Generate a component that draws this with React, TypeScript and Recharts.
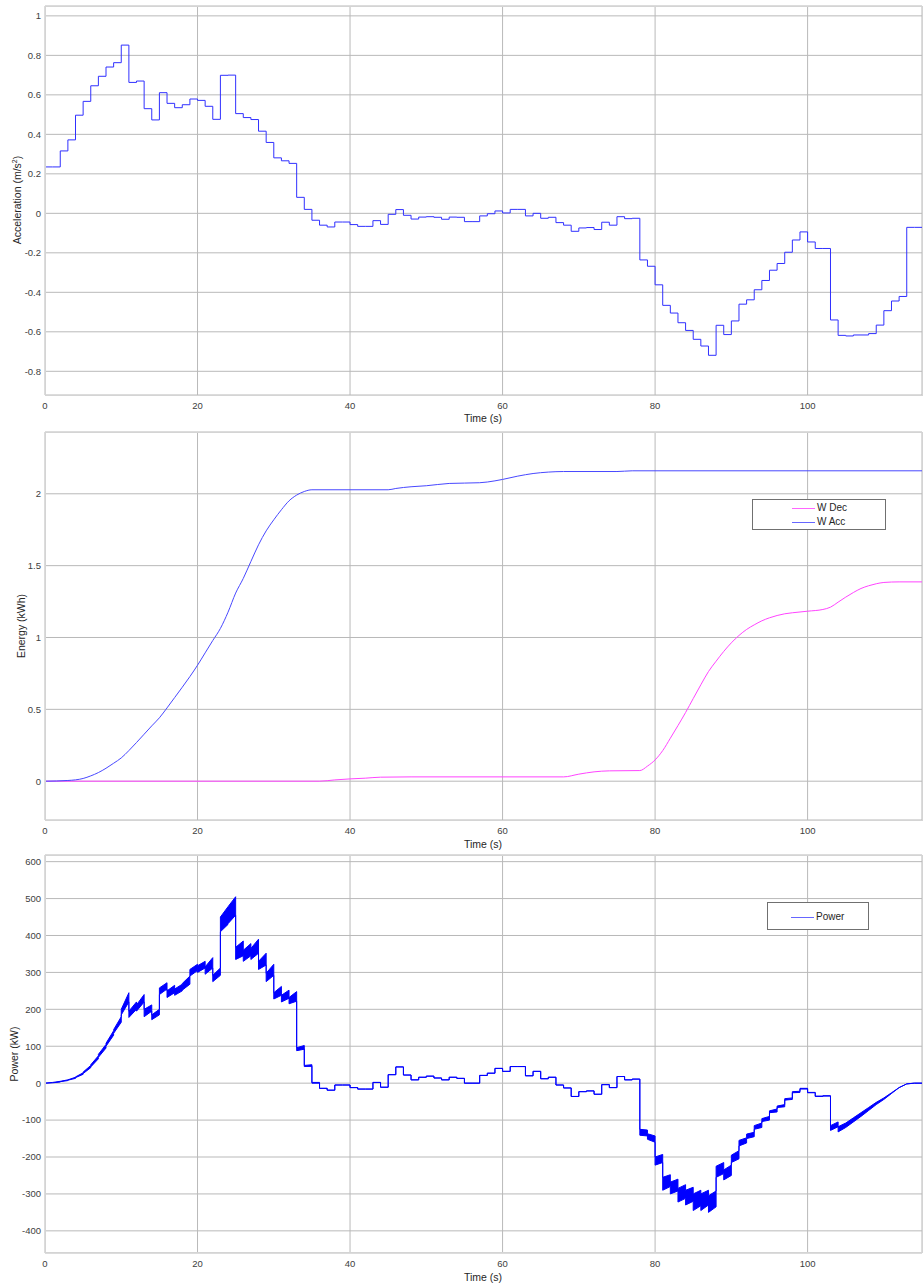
import { LineChart, ComposedChart, Line, Area, XAxis, YAxis, CartesianGrid, Legend } from 'recharts';

const FONT = '"Liberation Sans", Arial, Helvetica, sans-serif';

const timeTicks = [0, 20, 40, 60, 80, 100];
const accelTicks = [-0.8, -0.6, -0.4, -0.2, 0, 0.2, 0.4, 0.6, 0.8, 1];
const energyTicks = [0, 0.5, 1, 1.5, 2];
const powerTicks = [-400, -300, -200, -100, 0, 100, 200, 300, 400, 500, 600];

// acceleration (m/s2), held for 1 s from t = 0 .. 114
const accelValues = [
  0.235, 0.235, 0.316, 0.372, 0.497, 0.567, 0.646, 0.694, 0.741, 0.763,
  0.852, 0.663, 0.67, 0.53, 0.473, 0.611, 0.557, 0.535, 0.55, 0.579,
  0.572, 0.542, 0.476, 0.699, 0.7, 0.505, 0.485, 0.475, 0.416, 0.359,
  0.281, 0.266, 0.253, 0.081, 0.02, -0.035, -0.06, -0.069, -0.044, -0.044,
  -0.057, -0.066, -0.066, -0.037, -0.056, -0.005, 0.019, -0.01, -0.029, -0.019,
  -0.017, -0.02, -0.03, -0.019, -0.02, -0.042, -0.042, -0.013, -0.002, 0.012,
  0.002, 0.02, 0.02, -0.013, 0, -0.025, -0.02, -0.047, -0.06, -0.091,
  -0.074, -0.072, -0.082, -0.045, -0.06, -0.017, -0.027, -0.025, -0.236, -0.268,
  -0.362, -0.466, -0.505, -0.554, -0.593, -0.638, -0.672, -0.719, -0.567, -0.614,
  -0.545, -0.46, -0.438, -0.387, -0.34, -0.288, -0.254, -0.197, -0.135, -0.094,
  -0.145, -0.178, -0.178, -0.54, -0.618, -0.621, -0.616, -0.616, -0.609, -0.566,
  -0.493, -0.444, -0.421, -0.071, -0.071,
];

// energy (kWh)
const accTime = [0, 3, 5, 6, 7, 8, 9, 10, 11, 12, 13, 14, 15, 16, 17, 18, 19, 20, 21, 22, 23, 24, 25, 26, 27, 28, 29, 30, 31, 32, 33, 34, 35, 45, 46, 48, 50, 53, 57, 59, 60, 62, 64, 66, 68, 75, 77, 115];
const accEnergy = [0, 0.005, 0.019, 0.037, 0.06, 0.09, 0.125, 0.162, 0.213, 0.269, 0.327, 0.385, 0.441, 0.51, 0.582, 0.654, 0.728, 0.807, 0.893, 0.979, 1.063, 1.176, 1.309, 1.411, 1.529, 1.645, 1.742, 1.819, 1.889, 1.951, 1.991, 2.016, 2.028, 2.028, 2.037, 2.049, 2.056, 2.072, 2.077, 2.09, 2.1, 2.123, 2.141, 2.151, 2.155, 2.155, 2.16, 2.16];
const decTime = [0, 36, 38, 40, 42, 44, 48, 68, 70, 72, 74, 78, 79, 80, 81, 82, 83, 84, 85, 86, 87, 88, 89, 90, 91, 92, 93, 94, 95, 96, 97, 98, 100, 102, 103, 104, 105, 106, 107, 108, 109, 110, 112, 115];
const decEnergy = [0, 0, 0.009, 0.016, 0.021, 0.028, 0.03, 0.03, 0.049, 0.065, 0.072, 0.074, 0.105, 0.148, 0.213, 0.299, 0.387, 0.478, 0.575, 0.671, 0.763, 0.835, 0.903, 0.963, 1.014, 1.056, 1.088, 1.116, 1.137, 1.153, 1.165, 1.172, 1.183, 1.195, 1.211, 1.246, 1.281, 1.313, 1.341, 1.36, 1.374, 1.383, 1.387, 1.387];

// power (kW): per-second band [startLow, startHigh, endLow, endHigh]
const tractionBand = [
  [0, 0, 1, 2], [1, 2, 3, 5], [4, 5, 7, 9], [8, 9, 13, 16], [15, 17, 24, 28],
  [26, 30, 42, 48], [44, 50, 66, 74], [70, 78, 95, 105], [100, 108, 130, 142], [135, 145, 165, 180],
  [185, 200, 220, 245], [178, 195, 200, 220], [195, 212, 220, 240], [180, 200, 195, 212], [172, 185, 185, 200],
  [240, 258, 255, 272], [232, 250, 245, 265], [238, 255, 250, 268], [252, 270, 268, 290], [290, 308, 305, 322],
  [300, 318, 312, 330], [295, 315, 312, 340], [275, 292, 292, 312], [410, 450, 430, 478], [432, 478, 455, 505],
  [335, 368, 345, 385], [330, 360, 345, 378], [335, 365, 352, 390], [308, 330, 320, 352], [275, 298, 292, 322],
  [228, 245, 238, 262], [220, 238, 230, 252], [215, 232, 222, 248], [88, 96, 92, 102], [45, 48, 46, 50],
  [0, 2, 0, 2],
];
// t = 36 .. 77
const cruisePower = [
  -14, -19, -5, -5, -12, -16, -16, 2, -11, 23, 44, 22, 9, 16, 19, 14, 9, 16, 13, 0, 0,
  21, 27, 40, 32, 45, 45, 20, 32, 12, 16, -5, -13, -36, -23, -21, -30, -4, -12, 18, 9, 11,
];
// t = 78 .. 114
const brakingBand = [
  [-141, -125, -143, -127], [-152, -137, -160, -143], [-222, -200, -215, -193], [-290, -255, -280, -248],
  [-300, -268, -292, -260], [-322, -285, -312, -275], [-330, -290, -320, -282], [-345, -300, -332, -290],
  [-345, -300, -330, -290], [-350, -305, -335, -292], [-255, -225, -245, -215], [-262, -235, -250, -222],
  [-215, -195, -205, -183], [-170, -155, -162, -148], [-150, -138, -145, -133], [-125, -115, -120, -108],
  [-104, -96, -100, -90], [-80, -75, -78, -70], [-66, -62, -64, -58], [-46, -42, -44, -40],
  [-26, -23, -25, -22], [-16, -14, -16, -14], [-26, -25, -26, -25], [-36, -35, -36, -35],
  [-35, -34, -35, -34], [-128, -115, -118, -105], [-132, -118, -120, -108], [-120, -108, -105, -94],
  [-105, -94, -90, -80], [-90, -80, -74, -66], [-74, -66, -58, -52], [-58, -52, -44, -40],
  [-44, -40, -28, -26], [-28, -26, -12, -12], [-12, -12, -2, -2], [-2, -2, 0, 0], [0, 0, 0, 0],
];

const accelData = [{ t: 0, a: 0 }, ...accelValues.map((a, i) => ({ t: i, a })), { t: 115, a: accelValues[accelValues.length - 1] }];
const accData = accTime.map((t, i) => ({ t, e: accEnergy[i] }));
const decData = decTime.map((t, i) => ({ t, e: decEnergy[i] }));

const powerSegments = [
  ...tractionBand,
  ...cruisePower.map((v) => [v, v, v, v]),
  ...brakingBand,
];
const powerData: { t: number; band: number[] }[] = [];
powerSegments.forEach((s, k) => {
  powerData.push({ t: k, band: [s[0], s[1]] });
  powerData.push({ t: k + 1, band: [s[2], s[3]] });
});

const GRID = '#b9b9b9';
const tickStyle = { fontSize: 9.5, fill: '#404040', fontFamily: FONT };

const LegendBox = ({ items, width, height, lineLeft, rowTop }: any) => (
  <div style={{ width, height, boxSizing: 'border-box', border: '1px solid #707070', background: '#fff', position: 'relative', fontFamily: FONT }}>
    {items.map((it: any, i: number) => (
      <div key={it.label} style={{ position: 'absolute', left: lineLeft, top: rowTop + i * 14, height: 12, display: 'flex', alignItems: 'center' }}>
        <span style={{ display: 'inline-block', width: 23, borderTop: `1px solid ${it.color}` }} />
        <span style={{ marginLeft: 2, fontSize: 10, color: '#262626', lineHeight: '12px' }}>{it.label}</span>
      </div>
    ))}
  </div>
);

const Title = ({ x, y, rotate, children }: any) => (
  <div style={{
    position: 'absolute', left: x, top: y, transform: `translate(-50%, -50%)${rotate ? ' rotate(-90deg)' : ''}`,
    whiteSpace: 'nowrap', fontFamily: FONT, fontSize: 10.5, color: '#262626', lineHeight: '12px',
  }}>{children}</div>
);

const Box = ({ top, height }: any) => (
  <div style={{ position: 'absolute', left: 45, top, width: 878, height, boxSizing: 'border-box', border: '1px solid #d4d4d4', pointerEvents: 'none' }} />
);

const xAxisProps = {
  dataKey: 't', type: 'number' as const, domain: [0, 115], ticks: timeTicks, interval: 0 as const,
  tickLine: false, axisLine: false, tick: tickStyle, tickSize: 4, tickMargin: 3, allowDataOverflow: true,
};

export default function App() {
  return (
    <div style={{ position: 'absolute', left: 0, top: 0, width: 923, height: 1283, background: '#fff' }}>
      {/* acceleration */}
      <div style={{ position: 'absolute', left: 0, top: 0 }}>
        <LineChart width={923} height={420} data={accelData} margin={{ top: 6, right: 1, bottom: 0, left: 0 }}>
          <CartesianGrid stroke={GRID} />
          <XAxis {...xAxisProps} height={25} />
          <YAxis type="number" domain={[-0.92, 1.05]} ticks={accelTicks} interval={0} width={45} tickLine={false} axisLine={false} tick={tickStyle} tickSize={2} tickMargin={2} allowDataOverflow />
          <Line type="stepAfter" dataKey="a" stroke="#3030ff" strokeWidth={1} dot={false} isAnimationActive={false} />
        </LineChart>
      </div>
      <Box top={6} height={390} />
      <Title x={483} y={418}>Time (s)</Title>
      <Title x={16} y={200} rotate>Acceleration (m/s<sup style={{ fontSize: 7 }}>2</sup>)</Title>

      {/* energy */}
      <div style={{ position: 'absolute', left: 0, top: 420 }}>
        <LineChart width={923} height={425} margin={{ top: 12, right: 1, bottom: 0, left: 0 }}>
          <CartesianGrid stroke={GRID} />
          <XAxis {...xAxisProps} height={25} />
          <YAxis type="number" domain={[-0.27, 2.43]} ticks={energyTicks} interval={0} width={45} tickLine={false} axisLine={false} tick={tickStyle} tickSize={2} tickMargin={2} allowDataOverflow />
          <Line data={decData} type="monotone" dataKey="e" name="W Dec" stroke="#ff44ff" strokeWidth={1} dot={false} isAnimationActive={false} />
          <Line data={accData} type="monotone" dataKey="e" name="W Acc" stroke="#4848ff" strokeWidth={1} dot={false} isAnimationActive={false} />
          <Legend
            layout="horizontal" verticalAlign="middle" align="center"
            wrapperStyle={{ left: 752, top: 79, width: 134, height: 31 }}
            content={() => (
              <LegendBox width={134} height={31} lineLeft={39} rowTop={2}
                items={[{ label: 'W Dec', color: '#ff66ff' }, { label: 'W Acc', color: '#6666ff' }]} />
            )}
          />
        </LineChart>
      </div>
      <Box top={432} height={389} />
      <Title x={483} y={844}>Time (s)</Title>
      <Title x={21} y={626} rotate>Energy (kWh)</Title>

      {/* power */}
      <div style={{ position: 'absolute', left: 0, top: 845 }}>
        <ComposedChart width={923} height={438} data={powerData} margin={{ top: 10, right: 1, bottom: 0, left: 0 }}>
          <CartesianGrid stroke={GRID} />
          <XAxis {...xAxisProps} height={30} />
          <YAxis type="number" domain={[-460, 618]} ticks={powerTicks} interval={0} width={45} tickLine={false} axisLine={false} tick={tickStyle} tickSize={2} tickMargin={2} allowDataOverflow />
          <Area type="linear" dataKey="band" name="Power" stroke="#0000ff" strokeWidth={1} fill="#0000ff" fillOpacity={1} dot={false} activeDot={false} isAnimationActive={false} />
          <Legend
            layout="horizontal" verticalAlign="middle" align="center"
            wrapperStyle={{ left: 767, top: 57, width: 102, height: 28 }}
            content={() => (
              <LegendBox width={102} height={28} lineLeft={23} rowTop={8}
                items={[{ label: 'Power', color: '#6666ff' }]} />
            )}
          />
        </ComposedChart>
      </div>
      <Box top={855} height={398} />
      <Title x={483} y={1277}>Time (s)</Title>
      <Title x={14} y={1054} rotate>Power (kW)</Title>
    </div>
  );
}
